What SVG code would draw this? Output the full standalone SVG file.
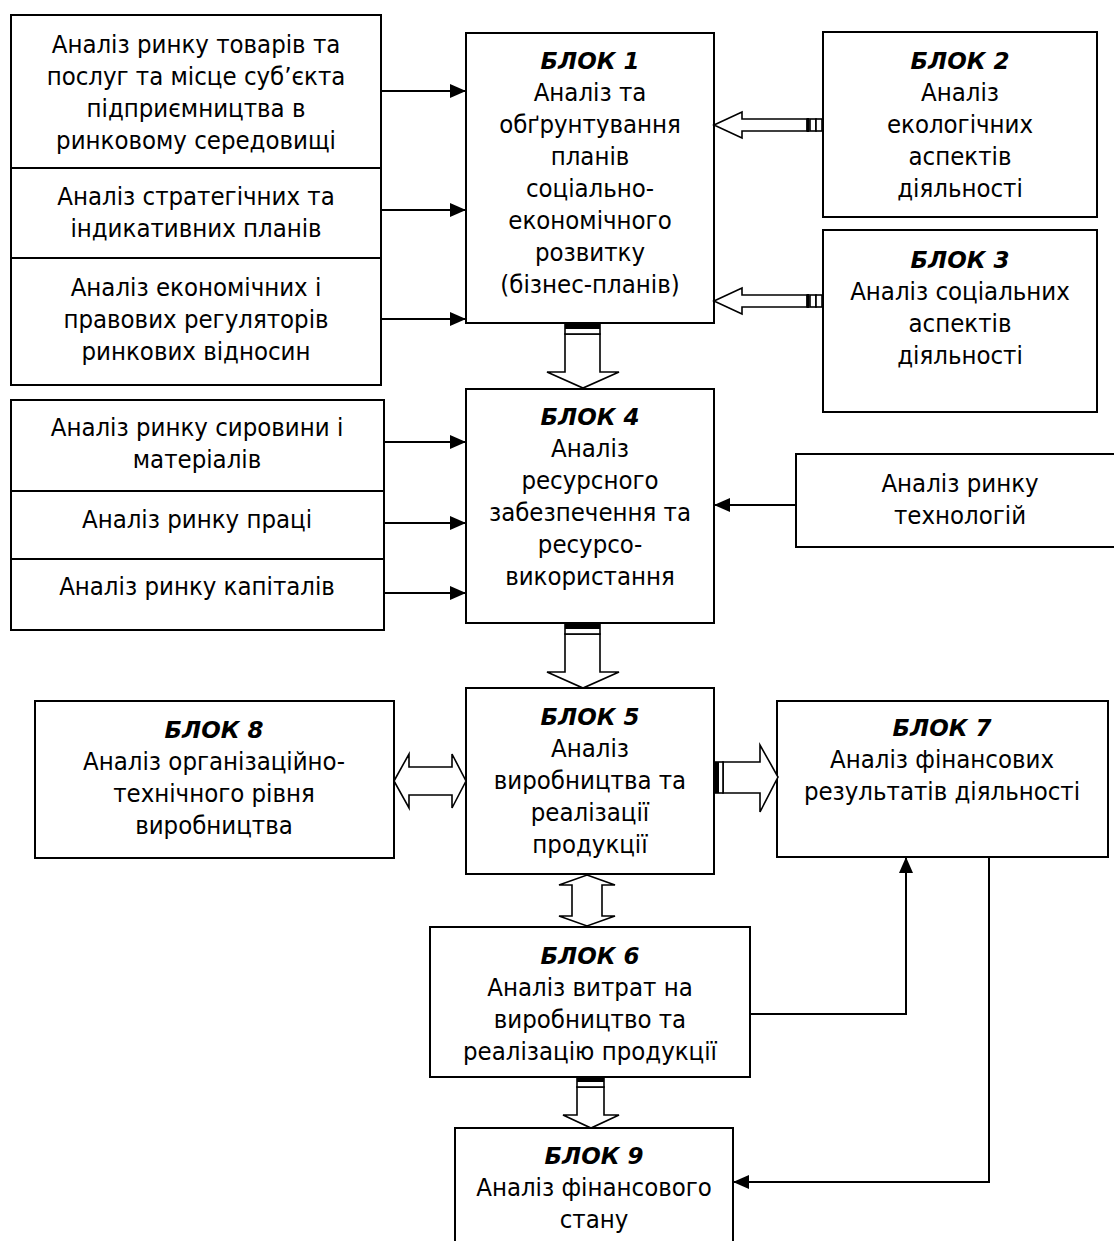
<svg xmlns="http://www.w3.org/2000/svg" width="1114" height="1241" viewBox="0 0 1114 1241">
<style>
.box{fill:#fff;stroke:#000;stroke-width:2}
.t{font-family:"DejaVu Sans",Verdana,sans-serif;font-stretch:condensed;font-size:25.5px;fill:#000;text-anchor:middle}
.h{font-family:"DejaVu Sans",Verdana,sans-serif;font-size:23px;font-weight:bold;font-style:italic;fill:#000;text-anchor:middle}
.ln{fill:none;stroke:#000;stroke-width:2}
.ha{fill:#fff;stroke:#000;stroke-width:1.6;stroke-linejoin:miter}
.bk{fill:#000}
</style>
<defs>
<marker id="ah" markerWidth="16" markerHeight="14" refX="16" refY="7" orient="auto" markerUnits="userSpaceOnUse">
<path d="M0,0 L16,7 L0,14 Z" fill="#000"/>
</marker>
</defs>
<rect width="1114" height="1241" fill="#fff"/>

<g id="left-group-1">
<rect class="box" x="11" y="15" width="370" height="370"/>
<line class="ln" x1="11" y1="168" x2="381" y2="168"/>
<line class="ln" x1="11" y1="258" x2="381" y2="258"/>
<text class="t" x="196" y="53">Аналіз ринку товарів та</text>
<text class="t" x="196" y="85">послуг та місце суб’єкта</text>
<text class="t" x="196" y="117">підприємництва в</text>
<text class="t" x="196" y="149">ринковому середовищі</text>
<text class="t" x="196" y="205">Аналіз стратегічних та</text>
<text class="t" x="196" y="237">індикативних планів</text>
<text class="t" x="196" y="296">Аналіз економічних і</text>
<text class="t" x="196" y="328">правових регуляторів</text>
<text class="t" x="196" y="360">ринкових відносин</text>
</g>

<g id="block1">
<rect class="box" x="466" y="33" width="248" height="290"/>
<text class="h" x="590" y="69">БЛОК 1</text>
<text class="t" x="590" y="101">Аналіз та</text>
<text class="t" x="590" y="133">обґрунтування</text>
<text class="t" x="590" y="165">планів</text>
<text class="t" x="590" y="197">соціально-</text>
<text class="t" x="590" y="229">економічного</text>
<text class="t" x="590" y="261">розвитку</text>
<text class="t" x="590" y="293">(бізнес-планів)</text>
</g>

<g id="block2">
<rect class="box" x="823" y="32" width="274" height="185"/>
<text class="h" x="960" y="69">БЛОК 2</text>
<text class="t" x="960" y="101">Аналіз</text>
<text class="t" x="960" y="133">екологічних</text>
<text class="t" x="960" y="165">аспектів</text>
<text class="t" x="960" y="197">діяльності</text>
</g>

<g id="block3">
<rect class="box" x="823" y="230" width="274" height="182"/>
<text class="h" x="960" y="268">БЛОК 3</text>
<text class="t" x="960" y="300">Аналіз соціальних</text>
<text class="t" x="960" y="332">аспектів</text>
<text class="t" x="960" y="364">діяльності</text>
</g>

<g id="left-group-2">
<rect class="box" x="11" y="400" width="373" height="230"/>
<line class="ln" x1="11" y1="491" x2="384" y2="491"/>
<line class="ln" x1="11" y1="559" x2="384" y2="559"/>
<text class="t" x="197" y="436">Аналіз ринку сировини і</text>
<text class="t" x="197" y="468">матеріалів</text>
<text class="t" x="197" y="528">Аналіз ринку праці</text>
<text class="t" x="197" y="595">Аналіз ринку капіталів</text>
</g>

<g id="block4">
<rect class="box" x="466" y="389" width="248" height="234"/>
<text class="h" x="590" y="425">БЛОК 4</text>
<text class="t" x="590" y="457">Аналіз</text>
<text class="t" x="590" y="489">ресурсного</text>
<text class="t" x="590" y="521">забезпечення та</text>
<text class="t" x="590" y="553">ресурсо-</text>
<text class="t" x="590" y="585">використання</text>
</g>

<g id="tech">
<rect class="box" x="796" y="454" width="330" height="93"/>
<text class="t" x="960" y="492">Аналіз ринку</text>
<text class="t" x="960" y="524">технологій</text>
</g>

<g id="block5">
<rect class="box" x="466" y="688" width="248" height="186"/>
<text class="h" x="590" y="725">БЛОК 5</text>
<text class="t" x="590" y="757">Аналіз</text>
<text class="t" x="590" y="789">виробництва та</text>
<text class="t" x="590" y="821">реалізації</text>
<text class="t" x="590" y="853">продукції</text>
</g>

<g id="block8">
<rect class="box" x="35" y="701" width="359" height="157"/>
<text class="h" x="214" y="738">БЛОК 8</text>
<text class="t" x="214" y="770">Аналіз організаційно-</text>
<text class="t" x="214" y="802">технічного рівня</text>
<text class="t" x="214" y="834">виробництва</text>
</g>

<g id="block7">
<rect class="box" x="777" y="701" width="331" height="156"/>
<text class="h" x="942" y="736">БЛОК 7</text>
<text class="t" x="942" y="768">Аналіз фінансових</text>
<text class="t" x="942" y="800">результатів діяльності</text>
</g>

<g id="block6">
<rect class="box" x="430" y="927" width="320" height="150"/>
<text class="h" x="590" y="964">БЛОК 6</text>
<text class="t" x="590" y="996">Аналіз витрат на</text>
<text class="t" x="590" y="1028">виробництво та</text>
<text class="t" x="590" y="1060">реалізацію продукції</text>
</g>

<g id="block9">
<rect class="box" x="455" y="1128" width="278" height="130"/>
<text class="h" x="594" y="1164">БЛОК 9</text>
<text class="t" x="594" y="1196">Аналіз фінансового</text>
<text class="t" x="594" y="1228">стану</text>
</g>

<g id="connectors">
<line class="ln" x1="381" y1="91" x2="466" y2="91" marker-end="url(#ah)"/>
<line class="ln" x1="381" y1="210" x2="466" y2="210" marker-end="url(#ah)"/>
<line class="ln" x1="381" y1="319" x2="466" y2="319" marker-end="url(#ah)"/>
<line class="ln" x1="384" y1="442" x2="466" y2="442" marker-end="url(#ah)"/>
<line class="ln" x1="384" y1="523" x2="466" y2="523" marker-end="url(#ah)"/>
<line class="ln" x1="384" y1="593" x2="466" y2="593" marker-end="url(#ah)"/>
<line class="ln" x1="796" y1="505" x2="714" y2="505" marker-end="url(#ah)"/>
<polyline class="ln" points="750,1014 906,1014 906,857" marker-end="url(#ah)"/>
<polyline class="ln" points="989,857 989,1182 733,1182" marker-end="url(#ah)"/>

<!-- Block 2 -> Block 1 -->
<path class="ha" d="M714,125 L742,112 L742,119 L807,119 L807,131 L742,131 L742,138 Z"/>
<line x1="808" y1="118" x2="808" y2="132" stroke="#000" stroke-width="3"/>
<rect class="ha" x="810" y="119" width="6" height="12"/>
<rect class="ha" x="816" y="119" width="6" height="12"/>
<!-- Block 3 -> Block 1 -->
<path class="ha" d="M714,301 L742,288 L742,295 L807,295 L807,307 L742,307 L742,314 Z"/>
<line x1="808" y1="294" x2="808" y2="308" stroke="#000" stroke-width="3"/>
<rect class="ha" x="810" y="295" width="6" height="12"/>
<rect class="ha" x="816" y="295" width="6" height="12"/>

<!-- Block 1 -> Block 4 -->
<path class="ha" d="M565,334 L565,372 L547,372 L583,388 L619,372 L600,372 L600,334 Z"/>
<rect class="ha" x="565" y="323" width="35" height="11"/>
<rect class="bk" x="565" y="323" width="35" height="6"/>

<!-- Block 4 -> Block 5 -->
<path class="ha" d="M565,634 L565,672 L547,672 L583,688 L619,672 L600,672 L600,634 Z"/>
<rect class="ha" x="565" y="623" width="35" height="11"/>
<rect class="bk" x="565" y="623" width="35" height="6"/>

<!-- Block 8 <-> Block 5 -->
<path class="ha" d="M394,781 L409,754 L409,767 L452,767 L452,754 L466,781 L452,808 L452,795 L409,795 L409,808 Z"/>

<!-- Block 5 -> Block 7 -->
<path class="ha" d="M723,762 L760,762 L760,745 L778,777 L760,812 L760,793 L723,793 Z"/>
<rect class="ha" x="714" y="762" width="9" height="31"/>
<rect class="bk" x="714" y="762" width="5" height="31"/>

<!-- Block 5 <-> Block 6 -->
<path class="ha" d="M587,875 L615,885 L602,885 L602,916 L615,916 L587,926 L559,916 L572,916 L572,885 L559,885 Z"/>

<!-- Block 6 -> Block 9 -->
<path class="ha" d="M577,1087 L577,1115 L563,1115 L591,1128 L619,1115 L604,1115 L604,1087 Z"/>
<rect class="ha" x="577" y="1077" width="27" height="10"/>
<rect class="bk" x="577" y="1077" width="27" height="5"/>
</g>
</svg>
